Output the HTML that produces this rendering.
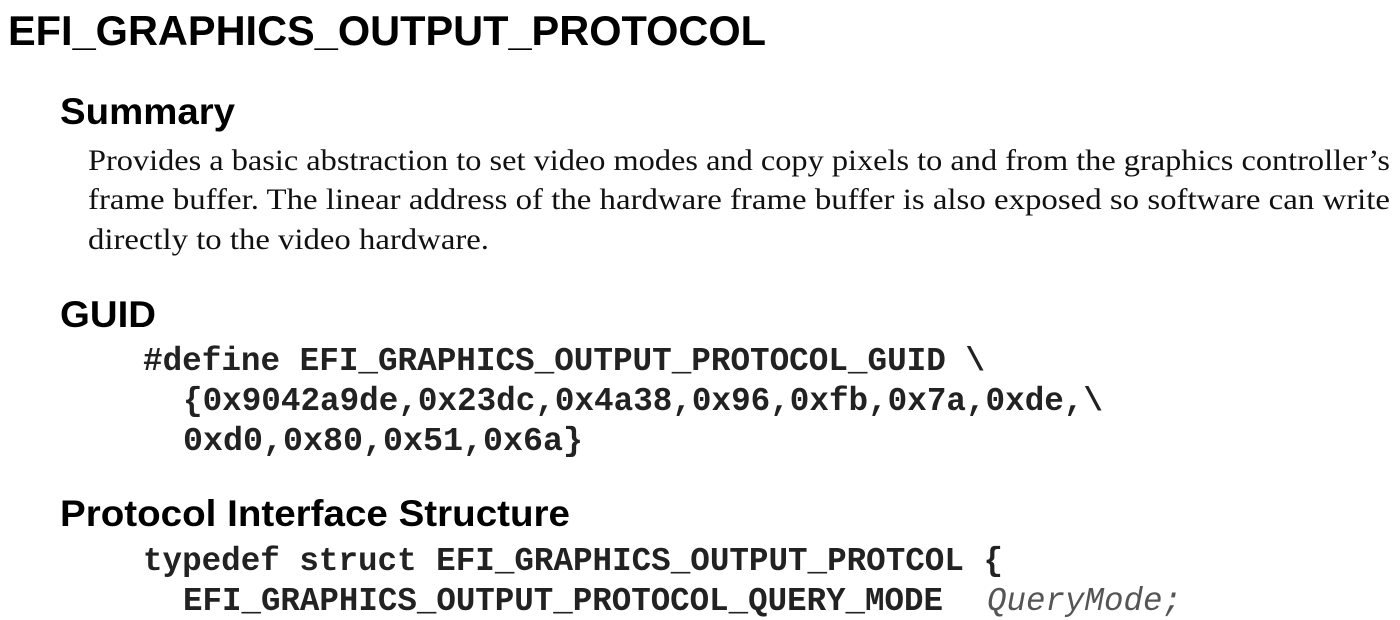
<!DOCTYPE html>
<html><head><meta charset="utf-8"><style>
html,body{margin:0;padding:0;background:#fff;width:1400px;height:620px;overflow:hidden}
svg{display:block}
.h{font-family:"Liberation Sans",sans-serif;font-weight:bold;fill:#000}
.s{font-family:"Liberation Serif",serif;font-size:30px;fill:#111}
.m{font-family:"Liberation Mono",monospace;font-weight:bold;font-size:33.3px;fill:#222}
.i{font-family:"Liberation Mono",monospace;font-style:italic;font-size:33.3px;fill:#555}
</style></head><body>
<svg width="1400" height="620" xmlns="http://www.w3.org/2000/svg">
<text class="h" x="8" y="45" font-size="42" textLength="758" lengthAdjust="spacingAndGlyphs">EFI_GRAPHICS_OUTPUT_PROTOCOL</text>
<text class="h" x="60" y="124" font-size="37" textLength="175" lengthAdjust="spacingAndGlyphs">Summary</text>
<text class="s" x="88" y="170" textLength="1302" lengthAdjust="spacingAndGlyphs">Provides a basic abstraction to set video modes and copy pixels to and from the graphics controller’s</text>
<text class="s" x="88" y="209" textLength="1302" lengthAdjust="spacingAndGlyphs">frame buffer. The linear address of the hardware frame buffer is also exposed so software can write</text>
<text class="s" x="88" y="249" textLength="401" lengthAdjust="spacingAndGlyphs">directly to the video hardware.</text>
<text class="h" x="60" y="327" font-size="37" textLength="96" lengthAdjust="spacingAndGlyphs">GUID</text>
<text class="m" x="143" y="370" textLength="842" lengthAdjust="spacingAndGlyphs">#define EFI_GRAPHICS_OUTPUT_PROTOCOL_GUID \</text>
<text class="m" x="183" y="410" textLength="920" lengthAdjust="spacingAndGlyphs">{0x9042a9de,0x23dc,0x4a38,0x96,0xfb,0x7a,0xde,\</text>
<text class="m" x="183" y="450" textLength="400" lengthAdjust="spacingAndGlyphs">0xd0,0x80,0x51,0x6a}</text>
<text class="h" x="60" y="526" font-size="37" textLength="510" lengthAdjust="spacingAndGlyphs">Protocol Interface Structure</text>
<text class="m" x="143" y="570" textLength="860" lengthAdjust="spacingAndGlyphs">typedef struct EFI_GRAPHICS_OUTPUT_PROTCOL {</text>
<text class="m" x="183" y="610" textLength="760" lengthAdjust="spacingAndGlyphs">EFI_GRAPHICS_OUTPUT_PROTOCOL_QUERY_MODE</text>
<text class="i" x="987" y="610" textLength="195" lengthAdjust="spacingAndGlyphs">QueryMode;</text>
</svg>
</body></html>
